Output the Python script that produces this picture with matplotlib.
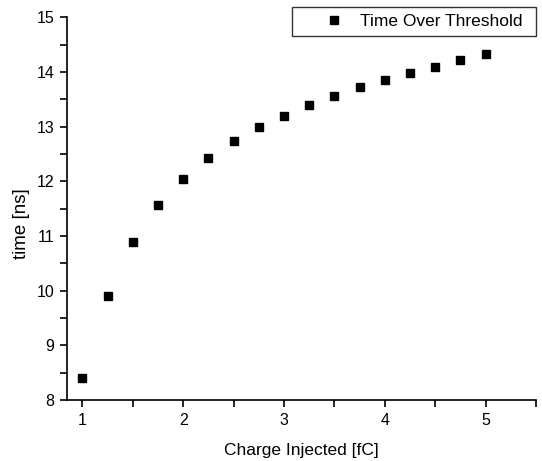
import numpy as np
import matplotlib.pyplot as plt
from matplotlib.ticker import MultipleLocator

plt.rcParams['font.family'] = ['Liberation Sans', 'DejaVu Sans']

# dados
carga = [1.0, 1.25, 1.5, 1.75, 2.0, 2.25, 2.5, 2.75, 3.0,
         3.25, 3.5, 3.75, 4.0, 4.25, 4.5, 4.75, 5.0]
tempo = [8.40, 9.91, 10.89, 11.56, 12.05, 12.42, 12.74, 12.99, 13.20,
         13.39, 13.57, 13.72, 13.86, 13.99, 14.10, 14.22, 14.33]

fig = plt.figure(figsize=(5.42, 4.61), dpi=100)
ax = fig.add_axes([0.123, 0.1323, 0.866, 0.830])

ax.plot(carga, tempo, 's', color='black', markersize=5.5,
        label='Time Over Threshold')

ax.set_xlim(0.845, 5.5)
ax.set_ylim(8, 15)
ax.xaxis.set_major_locator(MultipleLocator(1))
ax.xaxis.set_minor_locator(MultipleLocator(0.5))
ax.yaxis.set_major_locator(MultipleLocator(1))
ax.yaxis.set_minor_locator(MultipleLocator(0.5))

ax.spines['top'].set_visible(False)
ax.spines['right'].set_visible(False)
for s in ['left', 'bottom']:
    ax.spines[s].set_linewidth(1.2)

ax.tick_params(which='both', direction='out', length=5, width=1.2,
               labelsize=11.5, pad=4)

ax.set_xlabel('Charge Injected [fC]', fontsize=12.5, labelpad=11)
ax.set_ylabel('time [ns]', fontsize=13.5)
ax.yaxis.set_label_coords(-0.078, 0.461)

leg = ax.legend(loc='upper left',
                bbox_to_anchor=(292/542, 1 - 34/461, 244/542, 27/461),
                bbox_transform=fig.transFigure, mode='expand',
                borderaxespad=0, fontsize=12.5, fancybox=False,
                edgecolor='black', borderpad=0.4, handlelength=4.0,
                handletextpad=-0.5)
leg.get_frame().set_linewidth(1.0)

fig.savefig('out.png', dpi=100)
